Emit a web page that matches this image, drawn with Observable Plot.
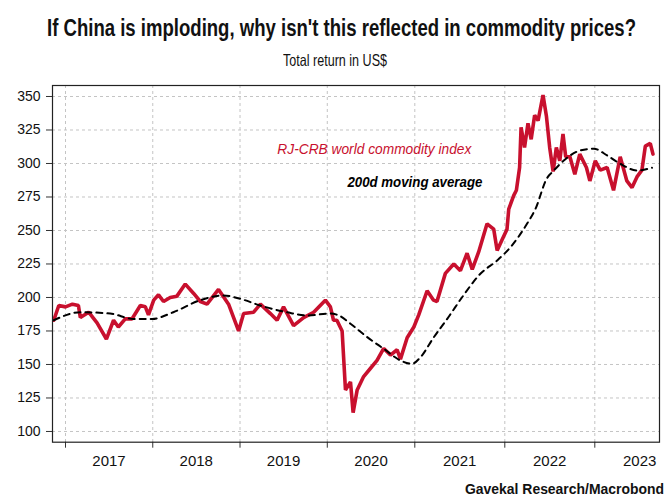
<!DOCTYPE html>
<html><head><meta charset="utf-8">
<script src="https://cdn.jsdelivr.net/npm/d3@7"></script>
<script src="https://cdn.jsdelivr.net/npm/@observablehq/plot@0.6"></script>
<style>
body{margin:0;background:#fff;}
#wrap{position:relative;width:670px;height:504px;overflow:hidden;font-family:"Liberation Sans",Arial,sans-serif;color:#111;}
.fit{position:absolute;white-space:nowrap;display:inline-block;transform-origin:0 0;}
#title{left:47px;top:15px;font-weight:bold;font-size:23px;line-height:26px;}
#subtitle{left:283px;top:51px;font-size:16.5px;line-height:19px;}
#chart{position:absolute;left:0;top:70px;}
#caption{left:465px;top:480px;font-weight:bold;font-size:15px;line-height:18px;}
</style></head>
<body><div id="wrap">
<div id="title" class="fit" data-w="589">If China is imploding, why isn't this reflected in commodity prices?</div>
<div id="subtitle" class="fit" data-w="104">Total return in US$</div>
<div id="chart"></div>
<div id="caption" class="fit" data-w="199">Gavekal Research/Macrobond</div>
</div>
<script>
// RJ-CRB world commodity index (total return, US$)
const indexDates = ["2016-11-13","2016-12-04","2017-01-01","2017-01-30","2017-02-24","2017-03-04","2017-04-08","2017-05-13","2017-06-21","2017-07-21","2017-08-10","2017-09-08","2017-10-06","2017-11-10","2017-12-01","2017-12-14",
"2018-01-05","2018-01-25","2018-02-15","2018-03-15","2018-04-12","2018-05-17","2018-06-21","2018-07-19","2018-08-16","2018-10-03","2018-11-14","2018-12-26",
"2019-01-16","2019-02-27","2019-03-27","2019-05-08","2019-06-05","2019-07-02","2019-08-13","2019-09-24","2019-11-05","2019-12-24",
"2020-01-14","2020-01-27","2020-02-10","2020-03-03","2020-03-17","2020-04-07","2020-04-18","2020-05-05","2020-06-01","2020-06-29","2020-07-27","2020-08-24","2020-09-21","2020-10-19","2020-11-02","2020-11-30","2020-12-28",
"2021-01-17","2021-02-20","2021-03-18","2021-04-01","2021-05-05","2021-06-08","2021-07-05","2021-08-01","2021-08-22","2021-09-17","2021-10-21","2021-11-17","2021-12-01","2021-12-21",
"2022-01-10","2022-01-17","2022-02-06","2022-02-17","2022-03-02","2022-03-08","2022-03-22","2022-04-05","2022-04-18","2022-05-02","2022-05-16","2022-06-05","2022-06-19","2022-07-02","2022-07-16","2022-07-29","2022-08-12","2022-08-25","2022-09-05","2022-09-22","2022-10-12","2022-11-01","2022-11-28","2022-12-12",
"2023-01-03","2023-01-23","2023-02-20","2023-03-18","2023-04-14","2023-05-11","2023-06-01","2023-06-21","2023-07-11","2023-07-25","2023-08-14","2023-08-25"];
const indexValues = [183,194,193,195,194,185,189,181,169,183,178,184,184,194,193,187,
198,202,197,200,201,210,203,197,195,206,195,175,
188,189,195,188,183,193,179,185,189,198,
193,183,183,175,131,137,114,131,141,147,153,162,157,161,154,170,178,
187,205,198,197,218,225,220,233,221,234,255,251,235,243,
251,266,276,280,297,327,312,330,318,336,332,351,335,312,294,312,302,322,305,305,292,307,297,287,
302,295,297,280,305,287,282,290,295,313,315,307];

// 200-day moving average
const maDates = ["2016-11-13","2017-03-04","2017-07-07","2017-10-13","2017-12-29","2018-03-28","2018-07-19","2018-10-24","2019-01-02","2019-03-27","2019-07-16","2019-10-08","2020-01-14","2020-02-18","2020-04-07","2020-06-16","2020-08-24","2020-11-02","2020-12-20","2021-01-24","2021-03-18","2021-05-20","2021-07-15","2021-09-24","2021-12-01","2022-01-24","2022-04-01","2022-05-05","2022-06-21","2022-07-15","2022-08-27","2022-11-03","2022-12-28","2023-02-20","2023-04-14","2023-06-21","2023-08-21"];
const maValues = [183,189,188,184,184,189,198,201.5,199,194,189,186.6,188,186.6,180.4,170.4,161.7,153,150.5,155.4,170,186,201,217.7,227.6,237.5,255,266,289,294,302,309.7,311,306,299.8,294.8,296.8];

const yTicks = [100,125,150,175,200,225,250,275,300,325,350];
const yearLabels = ["2017","2018","2019","2020","2021","2022","2023"];

const labelIndex = "RJ-CRB world commodity index";
const labelMA = "200d moving average";

const parse = d3.utcParse("%Y-%m-%d");
const indexData = indexDates.map((d,i)=>({date:parse(d), value:indexValues[i]}));
const maData = maDates.map((d,i)=>({date:parse(d), value:maValues[i]}));
const yearStarts = yearLabels.map(y=>new Date(Date.UTC(+y,0,1)));
const yearMids = yearLabels.map(y=>new Date(Date.UTC(+y,6,2)));

const red = "#c8102e";
const font = "'Liberation Sans', Arial, sans-serif";

const chart = Plot.plot({
  width: 670, height: 410,
  marginTop: 15, marginLeft: 52, marginRight: 11, marginBottom: 38.3,
  style: {fontFamily: font, color: "#111", background: "#fff"},
  x: {type: "utc", domain: [parse("2017-01-01"), parse("2021-01-01"), parse("2023-01-01")], range: [65, 414.3, 594.3]},
  y: {domain: [92, 358.2]},
  marks: [
    Plot.gridX(yearStarts, {stroke: "#c4c4c4", strokeOpacity: 1, strokeDasharray: "3,3"}),
    Plot.gridY(yTicks, {stroke: "#c4c4c4", strokeOpacity: 1, strokeDasharray: "3,3"}),
    Plot.lineY(indexData, {x: "date", y: "value", stroke: red, strokeWidth: 3.6, strokeLinejoin: "miter"}),
    Plot.lineY(maData, {x: "date", y: "value", stroke: "#000", strokeWidth: 2, strokeDasharray: "6,5", curve: "monotone-x"}),
    Plot.axisY(yTicks, {tickSize: 6, tickPadding: 6, fontSize: 14, label: null, stroke: "#333"}),
    Plot.axisX(yearStarts, {tickSize: 6, tickFormat: () => "", label: null, stroke: "#333"}),
    Plot.axisX(yearMids, {tickSize: 0, tickPadding: 13, tickFormat: d => String(d.getUTCFullYear()), fontSize: 15, label: null}),
    Plot.text([labelIndex], {x: () => parse("2019-06-06"), y: () => 310.4, text: d => d, textAnchor: "start", fill: red, fontSize: 14, fontStyle: "italic", className: "ann-red"}),
    Plot.text([labelMA], {x: () => parse("2020-03-25"), y: () => 285.8, text: d => d, textAnchor: "start", fill: "#000", fontSize: 14, fontStyle: "italic", fontWeight: 600, className: "ann-ma"}),
    Plot.frame({stroke: "#222", strokeWidth: 1.2})
  ]
});
document.getElementById("chart").appendChild(chart);

// fit annotation widths
[["ann-red",194],["ann-ma",135]].forEach(([c,w])=>{
  chart.querySelectorAll("g."+c+" text").forEach(t=>{t.setAttribute("textLength",w);t.setAttribute("lengthAdjust","spacingAndGlyphs");});
});
// fit title/subtitle/caption widths
document.querySelectorAll(".fit").forEach(el=>{
  const w = +el.dataset.w, r = el.getBoundingClientRect().width;
  el.style.transform = `scaleX(${w/r})`;
});
</script>
</body></html>
